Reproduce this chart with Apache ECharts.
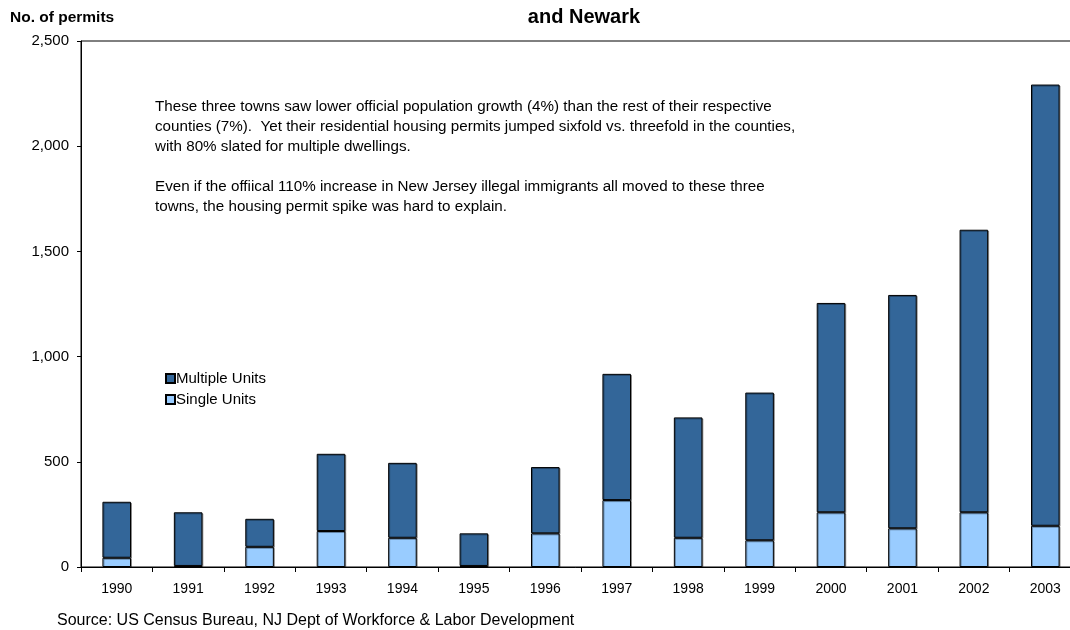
<!DOCTYPE html>
<html>
<head>
<meta charset="utf-8">
<script src="https://cdn.jsdelivr.net/npm/echarts@6/dist/echarts.min.js"></script>
<style>
  html, body { margin: 0; padding: 0; background: #fff; }
  #chart { width: 1070px; height: 630px; }
</style>
</head>
<body>
<div id="chart"></div>
<script>
const years = ['1990', '1991', '1992', '1993', '1994', '1995', '1996', '1997', '1998', '1999', '2000', '2001', '2002', '2003']
const singleUnits = [44, 5, 96, 171, 139, 5, 160, 318, 139, 127, 260, 184, 260, 196]
const multipleUnits = [266, 255, 133, 367, 356, 155, 315, 600, 572, 702, 995, 1109, 1343, 2097]
const yTicks = [0, 500, 1000, 1500, 2000, 2500]

const noteLines = [
  'These three towns saw lower official population growth (4%) than the rest of their respective',
  'counties (7%).  Yet their residential housing permits jumped sixfold vs. threefold in the counties,',
  'with 80% slated for multiple dwellings.',
  '',
  'Even if the offiical 110% increase in New Jersey illegal immigrants all moved to these three',
  'towns, the housing permit spike was hard to explain.'
]

const font = '"Liberation Sans", Arial, sans-serif'

const chart = echarts.init(document.getElementById('chart'), null, { renderer: 'canvas' })

const barStyle = (color) => ({
  color: color,
  borderColor: '#000',
  borderWidth: 1,
  shadowColor: 'rgba(0,0,0,0.35)',
  shadowOffsetX: 1,
  shadowOffsetY: 1,
  shadowBlur: 0
})

chart.setOption({
  animation: false,
  backgroundColor: '#fff',
  textStyle: { fontFamily: font },
  title: {
    text: 'and Newark',
    left: 579,
    top: 2,
    textAlign: 'center',
    textStyle: { fontSize: 20, fontWeight: 'bold', color: '#000', fontFamily: font }
  },
  // plot area runs past the right edge of the picture, as in the original crop
  grid: {
    left: 81,
    width: 1000,
    top: 41,
    bottom: 63,
    show: true,
    borderColor: '#000',
    borderWidth: 1,
    containLabel: false,
    outerBoundsMode: 'none'
  },
  legend: {
    orient: 'vertical',
    left: 160,
    top: 366,
    icon: 'rect',
    itemWidth: 9,
    itemHeight: 9,
    itemGap: 6,
    data: ['Multiple Units', 'Single Units'],
    textStyle: { fontSize: 15, color: '#000', fontFamily: font, padding: [0, 0, 0, -4] }
  },
  xAxis: {
    type: 'category',
    data: years,
    axisLine: { lineStyle: { color: '#000', width: 1 } },
    axisTick: { show: true, length: 5, lineStyle: { color: '#000' } },
    axisLabel: { color: '#000', fontSize: 14, margin: 15, fontFamily: font }
  },
  yAxis: {
    type: 'value',
    min: yTicks[0],
    max: yTicks[yTicks.length - 1],
    interval: 500,
    axisLine: { show: true, lineStyle: { color: '#000', width: 1 } },
    axisTick: { show: true, length: 4, lineStyle: { color: '#000' } },
    splitLine: { show: false },
    axisLabel: {
      color: '#000',
      fontSize: 15,
      margin: 12,
      fontFamily: font,
      formatter: (v) => v.toLocaleString('en-US')
    }
  },
  graphic: [
    {
      type: 'text',
      left: 10,
      top: 10,
      style: { text: 'No. of permits', font: 'bold 15.5px ' + font, fill: '#000' }
    },
    {
      type: 'text',
      left: 155,
      top: 97,
      style: { text: noteLines.join('\n'), font: '15.2px ' + font, lineHeight: 20, fill: '#000' }
    },
    {
      type: 'text',
      left: 57,
      top: 613,
      style: { text: 'Source: US Census Bureau, NJ Dept of Workforce & Labor Development', font: '16px ' + font, fill: '#000' }
    }
  ],
  series: [
    {
      name: 'Single Units',
      type: 'bar',
      stack: 'permits',
      barWidth: '40%',
      data: singleUnits,
      itemStyle: barStyle('#99CCFF')
    },
    {
      name: 'Multiple Units',
      type: 'bar',
      stack: 'permits',
      barWidth: '40%',
      data: multipleUnits,
      itemStyle: barStyle('#336699')
    }
  ]
})
</script>
</body>
</html>
